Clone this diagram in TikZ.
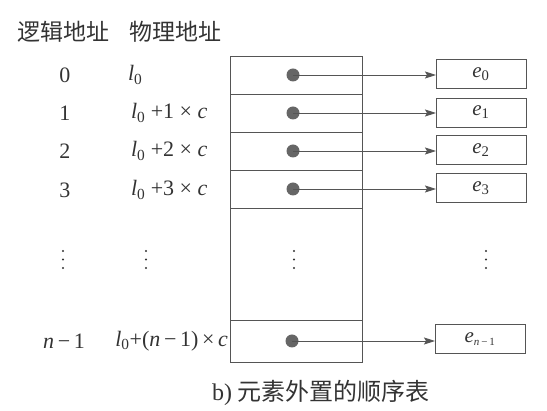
\documentclass[tikz,border=0pt]{standalone}
\usepackage{fontspec}
\setmainfont{Liberation Serif}
\newfontfamily\cjk{Noto Sans CJK SC}
\usetikzlibrary{arrows.meta}
\definecolor{ink}{HTML}{333333}
\definecolor{linec}{HTML}{555555}
\definecolor{dotc}{HTML}{666666}
\newcommand{\lz}{\textit{l}\textsubscript{0}}
\newcommand{\ee}[1]{\textit{e}\textsubscript{#1}}
\begin{document}
\begin{tikzpicture}[x=1pt,y=-1pt,
  every node/.style={text=ink, inner sep=0pt, outer sep=0pt},
  txt/.style={font=\fontsize{22}{26}\selectfont},
  head/.style={font=\cjk\fontsize{23}{27}\selectfont},
  cell/.style={draw=linec, line width=0.9pt, minimum width=132pt},
  ebox/.style={draw=linec, line width=0.9pt, minimum width=90pt, minimum height=29pt, font=\fontsize{21}{24}\selectfont},
  pdot/.style={circle, fill=dotc, minimum size=13pt},
  arr/.style={draw=linec, line width=0.9pt, -{Stealth[length=11pt,width=7pt,inset=2pt]}},
  vdot/.style={circle, fill=ink, minimum size=2.4pt}
]
\useasboundingbox (0,0) rectangle (547,411);
% headers
\node[head, anchor=west] (h1) at (17,32) {逻辑地址};
\node[head, anchor=west] (h2) at (129,32) {物理地址};
% column cells
\node[cell, minimum height=38pt] (c0) at (296,75) {};
\node[cell, minimum height=38pt] (c1) at (296,113) {};
\node[cell, minimum height=38pt] (c2) at (296,151) {};
\node[cell, minimum height=38pt] (c3) at (296,189) {};
\node[cell, minimum height=112pt] (c4) at (296,264) {};
\node[cell, minimum height=42pt] (c5) at (296,341) {};
% dots
\node[pdot] (d0) at (293,75) {};
\node[pdot] (d1) at (293,113) {};
\node[pdot] (d2) at (293,151) {};
\node[pdot] (d3) at (293,189) {};
\node[pdot] (d5) at (292,341) {};
% element boxes
\node[ebox] (e0) at (481,74) {\ee{0}};
\node[ebox] (e1) at (481,112.5) {\ee{1}};
\node[ebox] (e2) at (481,150) {\ee{2}};
\node[ebox] (e3) at (481,188) {\ee{3}};
\node[ebox] (e5) at (480,339) {\textit{e}\textsubscript{\fontsize{11}{12}\selectfont\textit{n}\,−\,1}};
% arrows
\draw[arr] (d0.center) -- (d0.center -| e0.west);
\draw[arr] (d1.center) -- (d1.center -| e1.west);
\draw[arr] (d2.center) -- (d2.center -| e2.west);
\draw[arr] (d3.center) -- (d3.center -| e3.west);
\draw[arr] (d5.center) -- (d5.center -| e5.west);
% logical addresses
\node[txt] (a0) at (65,75) {0};
\node[txt] (a1) at (65,113) {1};
\node[txt] (a2) at (65,151) {2};
\node[txt] (a3) at (65,190) {3};
\node[txt] (a5) at (64,341) {\textit{n}\,−\,1};
% physical addresses
\node[txt, anchor=west] (p0) at (128,75) {\lz};
\node[txt, anchor=west] (p1) at (131,113) {\lz\ +1 × \textit{c}};
\node[txt, anchor=west] (p2) at (131,151) {\lz\ +2 × \textit{c}};
\node[txt, anchor=west] (p3) at (131,190) {\lz\ +3 × \textit{c}};
\node[txt, anchor=east] (p5) at (228,341) {\lz+(\textit{n}\,−\,1)\,×\,\textit{c}};
% ellipses
\foreach \x/\n in {63/1,146/2,294/3,486/4}{
  \node[vdot] (v\n a) at (\x,251) {};
  \node[vdot] (v\n b) at (\x,259.5) {};
  \node[vdot] (v\n c) at (\x,268) {};
}
% caption
\node[anchor=west, font=\fontsize{24}{28}\selectfont] (cap) at (212,393) {b) {\cjk 元素外置的顺序表}};
\end{tikzpicture}
\end{document}
